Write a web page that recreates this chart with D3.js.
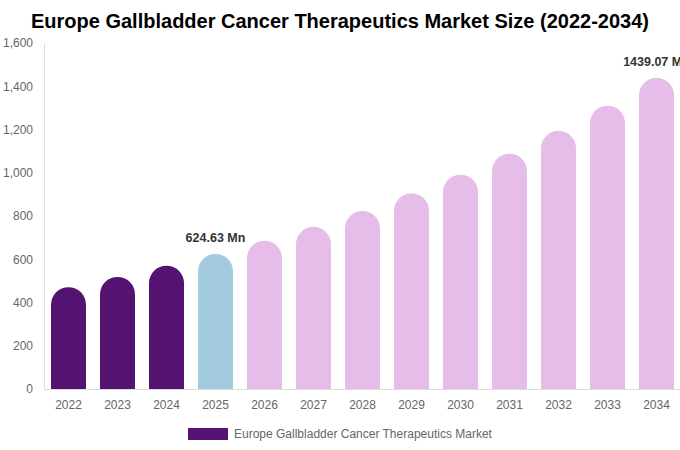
<!DOCTYPE html>
<html>
<head>
<meta charset="utf-8">
<script src="https://cdn.jsdelivr.net/npm/d3@7"></script>
<style>
  body { margin: 0; background: #fff; }
  svg { display: block; font-family: "Liberation Sans", Arial, sans-serif; }
</style>
</head>
<body>
<div id="chart"></div>
<script>
// chart data
var years = ['2022', '2023', '2024', '2025', '2026', '2027', '2028', '2029', '2030', '2031', '2032', '2033', '2034'];
var values = [471, 518, 570, 624.63, 686, 750, 823, 905, 991, 1088, 1194, 1310, 1439.07];
var yTicks = [0, 200, 400, 600, 800, 1000, 1200, 1400, 1600];
var labelled = { '2025': '624.63 Mn', '2034': '1439.07 Mn' };
var seriesName = 'Europe Gallbladder Cancer Therapeutics Market';

var width = 680, height = 450;
var margin = { top: 43, right: -1, bottom: 61, left: 44 };

// past years dark, base year blue, forecast pink
function barColor(year) {
	if (+year < 2025) return '#541271';
	if (+year === 2025) return '#a3cade';
	return '#e6bce8';
}

var svg = d3.select('#chart').append('svg')
	.attr('width', width)
	.attr('height', height);

svg.append('text')
	.attr('x', width / 2)
	.attr('y', 28)
	.attr('text-anchor', 'middle')
	.style('font-size', '20px')
	.style('font-weight', 'bold')
	.style('fill', '#000')
	.text('Europe Gallbladder Cancer Therapeutics Market Size (2022-2034)');

var x = d3.scaleBand()
	.domain(years)
	.range([margin.left, width - margin.right])
	.paddingInner(0.286)
	.paddingOuter(0.143);

var y = d3.scaleLinear()
	.domain([0, 1600])
	.range([height - margin.bottom, margin.top]);

// y axis
var yAxis = svg.append('g')
	.attr('transform', 'translate(' + margin.left + ',0)')
	.call(d3.axisLeft(y).tickValues(yTicks).tickFormat(d3.format(',')).tickSize(0).tickPadding(11));
yAxis.select('.domain').attr('stroke', '#ddd');
yAxis.selectAll('text').style('font-size', '12px').style('fill', '#666');

// x axis
var xAxis = svg.append('g')
	.attr('transform', 'translate(0,' + y(0) + ')')
	.call(d3.axisBottom(x).tickSize(0).tickPadding(11));
xAxis.select('.domain').attr('stroke', '#ddd');
xAxis.selectAll('text').style('font-size', '12px').style('fill', '#666');

// bars with a rounded top
function barPath(d, i) {
	var x0 = x(years[i]), w = x.bandwidth(), r = w / 2;
	var top = y(d), bottom = y(0);
	return 'M' + x0 + ',' + bottom +
		'L' + x0 + ',' + (top + r) +
		'A' + r + ',' + r + ' 0 0 1 ' + (x0 + w) + ',' + (top + r) +
		'L' + (x0 + w) + ',' + bottom + 'Z';
}

svg.append('g').selectAll('path')
	.data(values)
	.enter().append('path')
	.attr('d', barPath)
	.attr('fill', function (d, i) { return barColor(years[i]); });

// value labels
svg.append('g').selectAll('text')
	.data(years.filter(function (yr) { return labelled[yr]; }))
	.enter().append('text')
	.attr('x', function (yr) { return x(yr) + x.bandwidth() / 2; })
	.attr('y', function (yr) { return y(values[years.indexOf(yr)]) - 12; })
	.attr('text-anchor', 'middle')
	.style('font-size', '12.5px')
	.style('font-weight', 'bold')
	.style('fill', '#333')
	.text(function (yr) { return labelled[yr]; });

// legend
var legend = svg.append('g').attr('transform', 'translate(188,428)');
legend.append('rect')
	.attr('width', 40)
	.attr('height', 12)
	.attr('fill', '#541271');
legend.append('text')
	.attr('x', 46)
	.attr('y', 10)
	.style('font-size', '12px')
	.style('fill', '#666')
	.text(seriesName);
</script>
</body>
</html>
